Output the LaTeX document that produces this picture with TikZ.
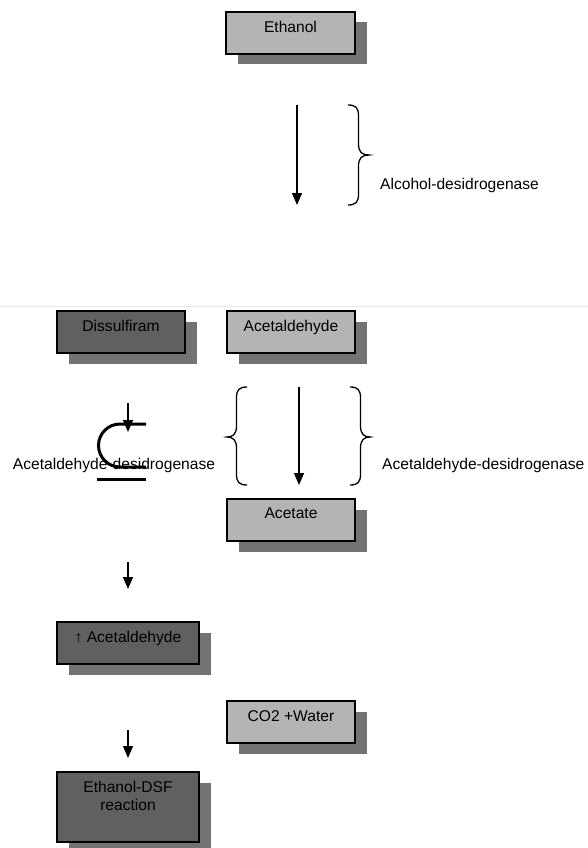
\documentclass[tikz,border=0pt]{standalone}
\usepackage{fontspec}
\setmainfont{Liberation Sans}
\usetikzlibrary{arrows.meta,shadows}
\definecolor{lightbox}{HTML}{B4B4B4}
\definecolor{darkbox}{HTML}{606060}
\definecolor{shadowgray}{HTML}{737373}
\definecolor{faintline}{HTML}{E6E6E6}
\newcommand{\labfont}{\fontsize{15.6}{18}\selectfont}
\tikzset{
  box/.style={draw=black, line width=1.4pt, minimum height=42pt, inner sep=0pt,
    drop shadow={shadow xshift=11.5pt, shadow yshift=-10.5pt, fill=shadowgray, draw=none, opacity=1}},
  lbox/.style={box, fill=lightbox, minimum width=128pt},
  dbox/.style={box, fill=darkbox},
  boxtext/.style={anchor=north, yshift=-9.7pt, inner sep=0pt, align=center, font=\labfont},
  flow/.style={line width=1.3pt, -{Triangle[width=10pt,length=12pt]}},
  bracepath/.style={line width=1.3pt},
  lab/.style={font=\labfont, inner sep=0pt},
  subsetline/.style={line width=3pt},
}
\begin{document}
\begin{tikzpicture}[x=1pt,y=-1pt]
\useasboundingbox (0,0) rectangle (588,848);
\clip (0,0) rectangle (588,848);
\fill[white] (0,0) rectangle (588,848);
% faint separator
\draw[faintline, line width=1pt] (0,306) -- (588,306);

% boxes
\node[lbox, minimum width=129pt, label={[boxtext]north:Ethanol}] (eth) at (290.5,33) {};
\node[dbox, minimum width=128pt, label={[boxtext]north:Dissulfiram}] (dis) at (121,332) {};
\node[lbox, label={[boxtext]north:Acetaldehyde}] (acd) at (291,332) {};
\node[lbox, label={[boxtext]north:Acetate}] (act) at (291,520) {};
\node[dbox, minimum width=142pt, label={[boxtext]north:↑ Acetaldehyde}] (upa) at (128,643) {};
\node[lbox, label={[boxtext]north:CO2 +Water}] (co2) at (291,722) {};
\node[dbox, minimum width=142pt, minimum height=70pt, label={[boxtext]north:{Ethanol-DSF\\reaction}}] (dsf) at (128,807) {};

% arrows
\coordinate (a1s) at (297,105); \coordinate (a1e) at (297,205);
\coordinate (a2s) at (299,387); \coordinate (a2e) at (299,485);
\coordinate (a3s) at (128,403); \coordinate (a3e) at (128,432);
\coordinate (a4s) at (128,562); \coordinate (a4e) at (128,589);
\coordinate (a5s) at (128,730); \coordinate (a5e) at (128,758);
\draw[flow] (a1s) -- (a1e);
\draw[flow] (a2s) -- (a2e);
\draw[flow] (a4s) -- (a4e);
\draw[flow] (a5s) -- (a5e);

% braces
\draw[bracepath] (348,105) .. controls (356,105) and (358.5,108) .. (358.5,116) -- (358.5,144)
  .. controls (358.5,152) and (362,155) .. (369,155)
  .. controls (362,155) and (358.5,158) .. (358.5,166) -- (358.5,194)
  .. controls (358.5,202) and (356,205) .. (348,205);
\draw[bracepath] (350,387) .. controls (358,387) and (360.5,390) .. (360.5,398) -- (360.5,426)
  .. controls (360.5,434) and (364,437) .. (370,437)
  .. controls (364,437) and (360.5,440) .. (360.5,448) -- (360.5,474)
  .. controls (360.5,482) and (358,485) .. (350,485);
\draw[bracepath] (247,387) .. controls (239,387) and (236.5,390) .. (236.5,398) -- (236.5,426)
  .. controls (236.5,434) and (233,437) .. (227,437)
  .. controls (233,437) and (236.5,440) .. (236.5,448) -- (236.5,474)
  .. controls (236.5,482) and (239,485) .. (247,485);

% labels
\node[lab, anchor=west] (adh) at (380,185) {Alcohol-desidrogenase};
\node[lab] (aldhL) at (114,465) {Acetaldehyde-desidrogenase};
\node[lab, anchor=west] (aldhR) at (382,465) {Acetaldehyde-desidrogenase};

% inhibition symbol
\draw[flow] (a3s) -- (a3e);
\draw[subsetline] (146,424) -- (120,424) arc (270:90:21.5) -- (146,467);
\draw[subsetline] (97,479) -- (146,479);
\end{tikzpicture}
\end{document}
